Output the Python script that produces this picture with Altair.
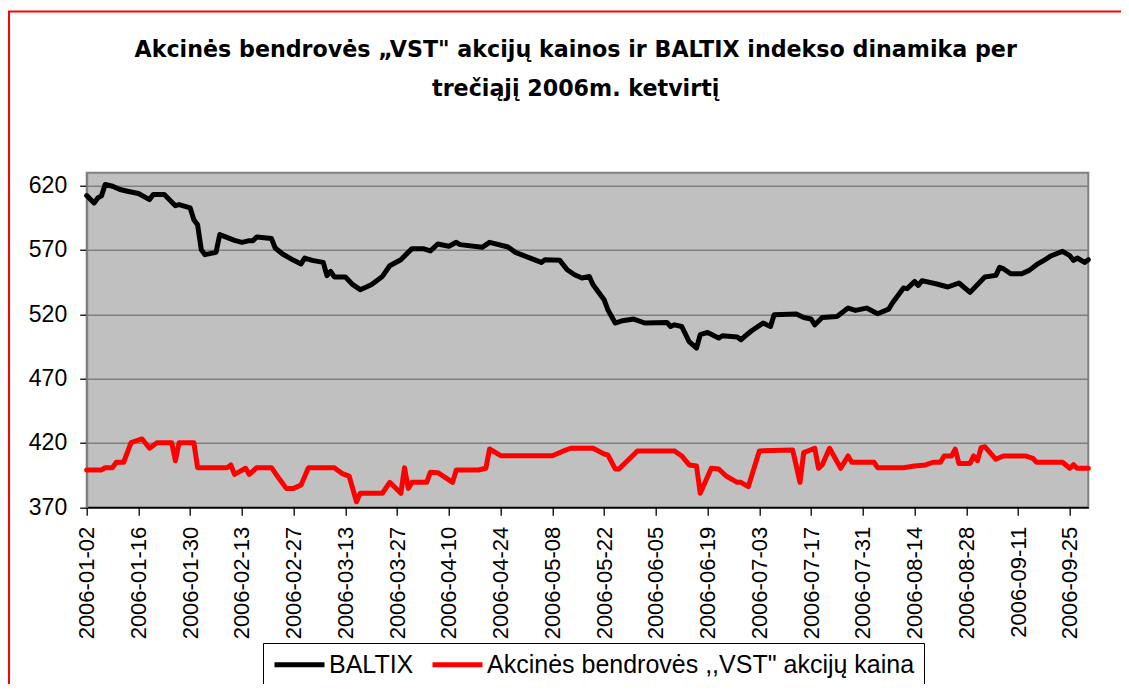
import altair as alt
import pandas as pd

# ---------------- data ----------------
baltix_dates = [
    "2006-01-02", "2006-01-04", "2006-01-05", "2006-01-06", "2006-01-07", "2006-01-09",
    "2006-01-11", "2006-01-13", "2006-01-16", "2006-01-19", "2006-01-20", "2006-01-23",
    "2006-01-26", "2006-01-27", "2006-01-30", "2006-01-31", "2006-02-01", "2006-02-02",
    "2006-02-03", "2006-02-06", "2006-02-07", "2006-02-11", "2006-02-13", "2006-02-15",
    "2006-02-16", "2006-02-17", "2006-02-21", "2006-02-22", "2006-02-24", "2006-02-27",
    "2006-03-01", "2006-03-02", "2006-03-04", "2006-03-07", "2006-03-08", "2006-03-09",
    "2006-03-10", "2006-03-13", "2006-03-15", "2006-03-17", "2006-03-20", "2006-03-23",
    "2006-03-25", "2006-03-28", "2006-03-31", "2006-04-03", "2006-04-05", "2006-04-07",
    "2006-04-10", "2006-04-12", "2006-04-13", "2006-04-19", "2006-04-21", "2006-04-26",
    "2006-04-28", "2006-05-05", "2006-05-06", "2006-05-10", "2006-05-12", "2006-05-14",
    "2006-05-16", "2006-05-18", "2006-05-19", "2006-05-22", "2006-05-23", "2006-05-25",
    "2006-05-27", "2006-05-30", "2006-06-02", "2006-06-08", "2006-06-09", "2006-06-10",
    "2006-06-12", "2006-06-14", "2006-06-16", "2006-06-17", "2006-06-19", "2006-06-22",
    "2006-06-23", "2006-06-27", "2006-06-28", "2006-06-29", "2006-07-01", "2006-07-04",
    "2006-07-05", "2006-07-06", "2006-07-07", "2006-07-13", "2006-07-15", "2006-07-17",
    "2006-07-18", "2006-07-20", "2006-07-24", "2006-07-27", "2006-07-29", "2006-08-01",
    "2006-08-04", "2006-08-07", "2006-08-08", "2006-08-11", "2006-08-12", "2006-08-14",
    "2006-08-15", "2006-08-16", "2006-08-20", "2006-08-23", "2006-08-26", "2006-08-29",
    "2006-09-02", "2006-09-05", "2006-09-06", "2006-09-07", "2006-09-09", "2006-09-12",
    "2006-09-14", "2006-09-16", "2006-09-18", "2006-09-20", "2006-09-23", "2006-09-25",
    "2006-09-26", "2006-09-27", "2006-09-29", "2006-09-30",
]
baltix_values = [
    612.2, 606.5, 610.4, 612.0, 620.8, 619.5,
    616.9, 615.6, 613.8, 609.1, 613.0, 613.0,
    604.4, 605.2, 602.6, 593.5, 589.6, 570.2,
    566.3, 568.1, 581.9, 577.4, 575.9, 577.2,
    577.2, 580.0, 578.8, 571.5, 566.8, 561.9,
    559.1, 563.7, 561.9, 560.3, 550.0, 553.3,
    549.0, 549.0, 543.0, 539.1, 543.0, 549.4,
    557.7, 562.4, 571.0, 571.0, 569.2, 574.6,
    572.8, 575.9, 574.1, 572.0, 575.9, 572.3,
    568.1, 560.3, 562.4, 561.9, 554.6, 550.7,
    548.2, 549.4, 543.0, 531.3, 523.5, 513.2,
    515.0, 516.3, 513.2, 513.6, 510.5, 511.8,
    510.5, 498.8, 493.7, 504.1, 505.9, 501.5,
    503.3, 502.3, 500.2, 502.7, 507.4, 513.2,
    511.8, 510.5, 519.6, 520.2, 517.5, 516.3,
    511.8, 517.5, 518.3, 524.8, 523.0, 524.8,
    520.4, 524.0, 528.7, 540.4, 539.9, 545.5,
    542.4, 546.1, 543.5, 541.2, 544.3, 537.0,
    549.0, 550.2, 556.4, 555.4, 551.5, 551.5,
    554.1, 558.5, 561.9, 565.5, 568.9, 565.5,
    561.9, 563.7, 560.3, 562.4,
]

vst_dates = [
    "2006-01-02", "2006-01-06", "2006-01-07", "2006-01-09", "2006-01-10", "2006-01-12",
    "2006-01-14", "2006-01-17", "2006-01-19", "2006-01-21", "2006-01-25", "2006-01-26",
    "2006-01-27", "2006-01-31", "2006-02-01", "2006-02-09", "2006-02-10", "2006-02-11",
    "2006-02-14", "2006-02-15", "2006-02-17", "2006-02-21", "2006-02-23", "2006-02-25",
    "2006-02-27", "2006-03-01", "2006-03-03", "2006-03-10", "2006-03-12", "2006-03-14",
    "2006-03-16", "2006-03-17", "2006-03-23", "2006-03-25", "2006-03-28", "2006-03-29",
    "2006-03-30", "2006-03-31", "2006-04-04", "2006-04-05", "2006-04-07", "2006-04-11",
    "2006-04-12", "2006-04-18", "2006-04-20", "2006-04-21", "2006-04-24", "2006-05-08",
    "2006-05-11", "2006-05-13", "2006-05-19", "2006-05-22", "2006-05-23", "2006-05-25",
    "2006-05-26", "2006-05-29", "2006-05-31", "2006-06-10", "2006-06-12", "2006-06-14",
    "2006-06-16", "2006-06-17", "2006-06-20", "2006-06-22", "2006-06-24", "2006-06-27",
    "2006-06-28", "2006-06-30", "2006-07-03", "2006-07-12", "2006-07-14", "2006-07-15",
    "2006-07-18", "2006-07-19", "2006-07-20", "2006-07-22", "2006-07-25", "2006-07-27",
    "2006-07-28", "2006-08-03", "2006-08-04", "2006-08-11", "2006-08-14", "2006-08-17",
    "2006-08-19", "2006-08-21", "2006-08-22", "2006-08-24", "2006-08-25", "2006-08-26",
    "2006-08-29", "2006-08-30", "2006-08-31", "2006-09-01", "2006-09-02", "2006-09-05",
    "2006-09-07", "2006-09-13", "2006-09-15", "2006-09-16", "2006-09-23", "2006-09-25",
    "2006-09-26", "2006-09-27", "2006-09-30",
]
vst_values = [
    399.0, 399.0, 400.8, 400.8, 405.0, 405.0,
    420.2, 423.1, 415.9, 420.2, 420.2, 406.2,
    420.2, 420.2, 400.8, 400.8, 402.9, 395.6,
    400.3, 395.6, 400.8, 400.8, 392.5, 384.7,
    384.7, 387.3, 400.8, 400.8, 396.4, 394.3,
    374.3, 380.9, 380.9, 389.4, 380.9, 400.8,
    384.7, 389.4, 389.4, 397.3, 396.9, 389.4,
    399.0, 399.0, 400.3, 415.3, 410.1, 410.1,
    413.8, 415.9, 415.9, 411.4, 410.7, 399.8,
    399.8, 408.1, 413.8, 413.8, 409.9, 402.9,
    402.1, 380.9, 400.3, 399.8, 394.3, 389.4,
    389.4, 386.0, 413.8, 414.6, 389.4, 412.5,
    415.9, 400.3, 402.9, 415.9, 400.3, 409.9,
    405.0, 405.0, 400.8, 400.8, 402.1, 402.9,
    405.0, 405.0, 409.9, 409.9, 415.2, 404.1,
    404.1, 409.9, 406.2, 416.4, 417.1, 407.3,
    409.9, 409.9, 408.1, 405.0, 405.0, 400.3,
    403.1, 400.3, 400.3,
]

series_names = ["BALTIX", "Akcinės bendrovės ,,VST\" akcijų kaina"]
series_colors = ["#000000", "#FF0000"]
title_line_1 = "Akcinės bendrovės „VST\" akcijų kainos ir BALTIX indekso dinamika per"
title_line_2 = "trečiąjį 2006m. ketvirtį"
y_ticks = [370, 420, 470, 520, 570, 620]
x_tick_dates = [
    "2006-01-02", "2006-01-16", "2006-01-30", "2006-02-13", "2006-02-27", "2006-03-13",
    "2006-03-27", "2006-04-10", "2006-04-24", "2006-05-08", "2006-05-22", "2006-06-05",
    "2006-06-19", "2006-07-03", "2006-07-17", "2006-07-31", "2006-08-14", "2006-08-28",
    "2006-09-11", "2006-09-25",
]

# ---------------- build table ----------------
df = pd.concat([
    pd.DataFrame({"date": baltix_dates, "value": baltix_values, "series": series_names[0]}),
    pd.DataFrame({"date": vst_dates, "value": vst_values, "series": series_names[1]}),
], ignore_index=True)


def dt(s):
    y, m, d = (int(p) for p in s.split("-"))
    return alt.DateTime(year=y, month=m, date=d, utc=True)


FONT = "Liberation Sans"
TITLE_FONT = "DejaVu Sans"
PL, PT = 78.7, 164.7
W, H = 1001.6, 334.6
TOTAL_W, TOTAL_H = 1113, 676

lines = alt.Chart(df).mark_line(strokeWidth=5, strokeJoin="round", strokeCap="round").encode(
    x=alt.X(
        "date:T",
        scale=alt.Scale(type="utc", domain=[dt("2006-01-02"), dt("2006-09-30")]),
        axis=alt.Axis(
            title=None,
            values=[dt(s) for s in x_tick_dates],
            labelExpr="utcFormat(datum.value, '%Y-%m-%d')",
            labelAngle=270,
            labelAlign="right",
            labelBaseline="middle",
            labelFont=FONT,
            labelFontSize=22,
            labelColor="#000000",
            labelPadding=11,
            labelOverlap=False,
            labelFlush=False,
            tickSize=8,
            tickColor="#000000",
            tickWidth=1.3,
            domainColor="#000000",
            domainWidth=1.5,
            grid=False,
        ),
    ),
    y=alt.Y(
        "value:Q",
        scale=alt.Scale(domain=[370, 630], nice=False, zero=False),
        axis=alt.Axis(
            title=None,
            values=y_ticks,
            labelFont=FONT,
            labelFontSize=23,
            labelColor="#000000",
            labelPadding=13,
            tickSize=7,
            tickColor="#000000",
            tickWidth=1.3,
            domainColor="#808080",
            domainWidth=2,
            grid=True,
            gridColor="#808080",
            gridWidth=1.5,
        ),
    ),
    color=alt.Color(
        "series:N",
        scale=alt.Scale(domain=series_names, range=series_colors),
        legend=alt.Legend(
            title=None,
            orient="none",
            legendX=176.3,
            legendY=470.3,
            direction="horizontal",
            symbolType="M-2.5,0H2.5",
            symbolSize=400,
            symbolStrokeWidth=5,
            symbolFillColor="transparent",
            symbolOffset=15,
            labelFont=FONT,
            labelFontSize=25,
            labelColor="#000000",
            labelOffset=17,
            columnPadding=8,
            padding=9,
            strokeColor="#000000",
            fillColor="#FFFFFF",
            labelLimit=0,
        ),
    ),
)

one = alt.Data(values=[{"k": 1}])
border_left = alt.Chart(one).mark_rule(color="#FF0000", strokeWidth=2).encode(
    x=alt.value(-PL + 1), y=alt.value(-PT + 3), y2=alt.value(TOTAL_H - PT)
)
border_top = alt.Chart(one).mark_rule(color="#FF0000", strokeWidth=2).encode(
    x=alt.value(-PL), x2=alt.value(TOTAL_W - PL), y=alt.value(-PT + 3.5)
)

title_style = dict(font=TITLE_FONT, fontSize=22.2, fontWeight="bold", color="#000000",
                   align="center", baseline="alphabetic")
title_1 = alt.Chart(one).mark_text(**title_style).encode(
    text=alt.value(title_line_1), x=alt.value(489.0), y=alt.value(-116.0)
)
title_2 = alt.Chart(one).mark_text(**title_style).encode(
    text=alt.value(title_line_2), x=alt.value(489.0), y=alt.value(-76.5)
)

chart = alt.layer(lines, border_left, border_top, title_1, title_2).properties(
    width=W,
    height=H,
    autosize=alt.AutoSizeParams(type="none"),
    padding={"left": PL, "top": PT, "right": TOTAL_W - PL - W, "bottom": TOTAL_H - PT - H},
    background="#FFFFFF",
).configure_view(
    fill="#C0C0C0", stroke="#808080", strokeWidth=2
)

chart.save("out.html", embed_options={"renderer": "svg", "actions": False})
